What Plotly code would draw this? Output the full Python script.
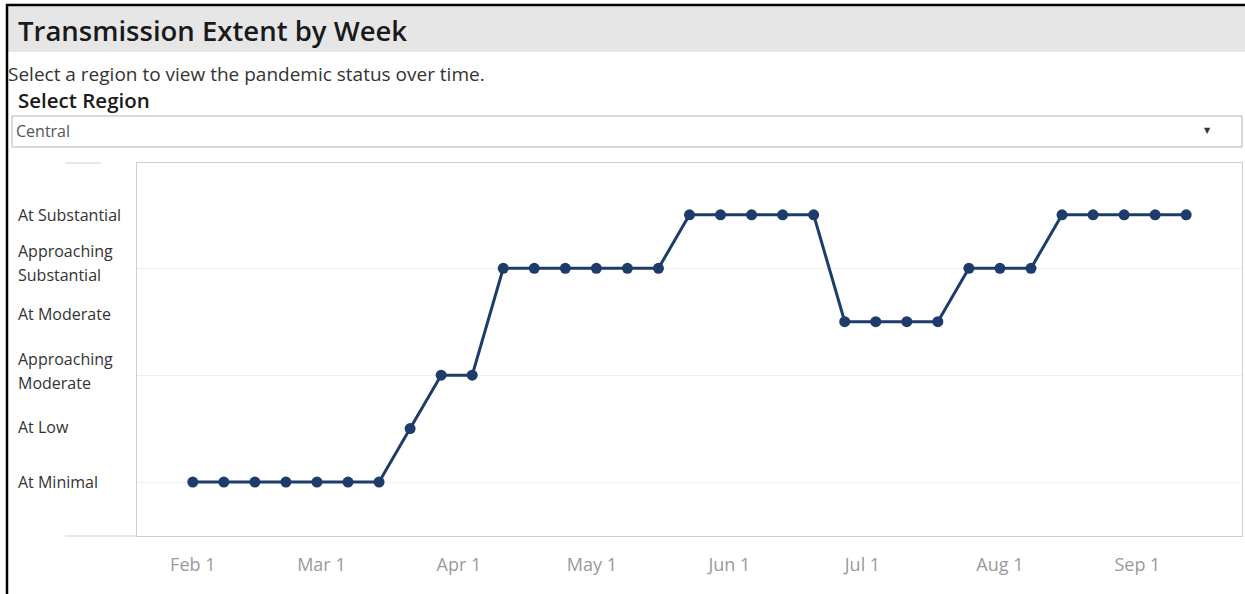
import plotly.graph_objects as go
import pandas as pd

# ---- data ----
start_week = "2020-02-01"
n_weeks = 33
level_names = ["At Minimal", "At Low", "Approaching<br>Moderate", "At Moderate",
               "Approaching<br>Substantial", "At Substantial"]
level_values = [1, 2, 3, 4, 5, 6]
weekly_level = [1, 1, 1, 1, 1, 1, 1,
                2,
                3, 3,
                5, 5, 5, 5, 5, 5,
                6, 6, 6, 6, 6,
                4, 4, 4, 4,
                5, 5, 5,
                6, 6, 6, 6, 6]
region = "Central"
title = "Transmission Extent by Week"
subtitle = "Select a region to view the pandemic status over time."
selector_label = "Select Region"

weeks = pd.date_range(start_week, periods=n_weeks, freq="7D")

W, H = 1245, 594
L, R, T, B = 137, 1242, 163, 536  # plot area pixels


def px(x):
    return (x - L) / (R - L)


def py(y):
    return (B - y) / (B - T)


FONT = "Open Sans"
NAVY = "#1d3c69"

fig = go.Figure()
fig.add_trace(go.Scatter(
    x=weeks, y=weekly_level, mode="lines+markers",
    line=dict(color=NAVY, width=3),
    marker=dict(color=NAVY, size=11),
    hoverinfo="x+y", showlegend=False,
))

shapes = []
# header bar
shapes.append(dict(type="rect", xref="paper", yref="paper", x0=px(8), x1=px(W), y0=py(6), y1=py(52),
                   fillcolor="#e6e6e6", line=dict(width=0), layer="below"))
# outer black border (top & left)
shapes.append(dict(type="line", xref="paper", yref="paper", x0=px(6), x1=px(W), y0=py(5), y1=py(5),
                   line=dict(color="black", width=2.5)))
shapes.append(dict(type="line", xref="paper", yref="paper", x0=px(7), x1=px(7), y0=py(4), y1=py(H),
                   line=dict(color="black", width=2.5)))
# dropdown box
shapes.append(dict(type="rect", xref="paper", yref="paper", x0=px(12), x1=px(1242), y0=py(116), y1=py(147),
                   fillcolor="white", line=dict(color="#b4b4b4", width=1)))
# header lines left of the plot
shapes.append(dict(type="line", xref="paper", yref="paper", x0=px(65), x1=px(101), y0=py(163), y1=py(163),
                   line=dict(color="#cfcfcf", width=1)))
shapes.append(dict(type="line", xref="paper", yref="paper", x0=px(65), x1=px(137), y0=py(536), y1=py(536),
                   line=dict(color="#cfcfcf", width=1)))

annotations = []
annotations.append(dict(text=title, xref="paper", yref="paper", x=px(16), y=py(30), xanchor="left",
                        yanchor="middle", showarrow=False,
                        font=dict(family=FONT, size=27.5, color="#1a1a1a", weight=600)))
annotations.append(dict(text=subtitle, xref="paper", yref="paper", x=px(6), y=py(74), xanchor="left",
                        yanchor="middle", showarrow=False,
                        font=dict(family=FONT, size=19, color="#333333")))
annotations.append(dict(text=selector_label, xref="paper", yref="paper", x=px(16), y=py(100), xanchor="left",
                        yanchor="middle", showarrow=False,
                        font=dict(family=FONT, size=20.5, color="#1a1a1a", weight=600)))
annotations.append(dict(text=region, xref="paper", yref="paper", x=px(14), y=py(131), xanchor="left",
                        yanchor="middle", showarrow=False,
                        font=dict(family=FONT, size=16, color="#555555")))
annotations.append(dict(text="▼", xref="paper", yref="paper", x=px(1207), y=py(131), xanchor="center",
                        yanchor="middle", showarrow=False,
                        font=dict(family="DejaVu Sans", size=8, color="#333333")))
# left-aligned y category labels (one annotation per text line)
label_shift = {1: 0, 2: 2, 3: 4, 4: 8, 5: 5, 6: 0}   # pixel nudges (style only)
line_gap = 24
for name, val in zip(level_names, level_values):
    parts = name.split("<br>")
    n = len(parts)
    for i, part in enumerate(parts):
        off = label_shift[val] + ((n - 1) / 2 - i) * line_gap
        annotations.append(dict(text=part, xref="paper", yref="y", x=px(16), y=val, yshift=off,
                                xanchor="left", yanchor="middle", align="left", showarrow=False,
                                font=dict(family=FONT, size=16, color="#333333")))

fig.update_layout(
    width=W, height=H,
    margin=dict(l=L, r=W - R, t=T, b=H - B, pad=0),
    paper_bgcolor="white", plot_bgcolor="white",
    font=dict(family=FONT),
    shapes=shapes, annotations=annotations,
    xaxis=dict(
        type="date",
        range=["2020-01-19 10:00", "2020-09-24 14:00"],
        tickvals=pd.date_range("2020-02-01", periods=8, freq="MS"),
        tickformat="%b %-d",
        showgrid=False, zeroline=False,
        showline=True, linecolor="#cfcfcf", linewidth=1, mirror=True,
        ticks="outside", ticklen=12, tickcolor="rgba(0,0,0,0)",
        tickfont=dict(family=FONT, size=18, color="#9a9a9a"),
    ),
    yaxis=dict(
        range=[-0.01, 6.97],
        tickvals=[1, 3, 5], showticklabels=False,
        showgrid=True, gridcolor="#efefef", gridwidth=1,
        zeroline=False,
        showline=True, linecolor="#cfcfcf", linewidth=1, mirror=True,
        ticks="",
    ),
)

fig.write_html("out.html", config={"displayModeBar": False},
               post_script="document.body.style.margin='0px';")
